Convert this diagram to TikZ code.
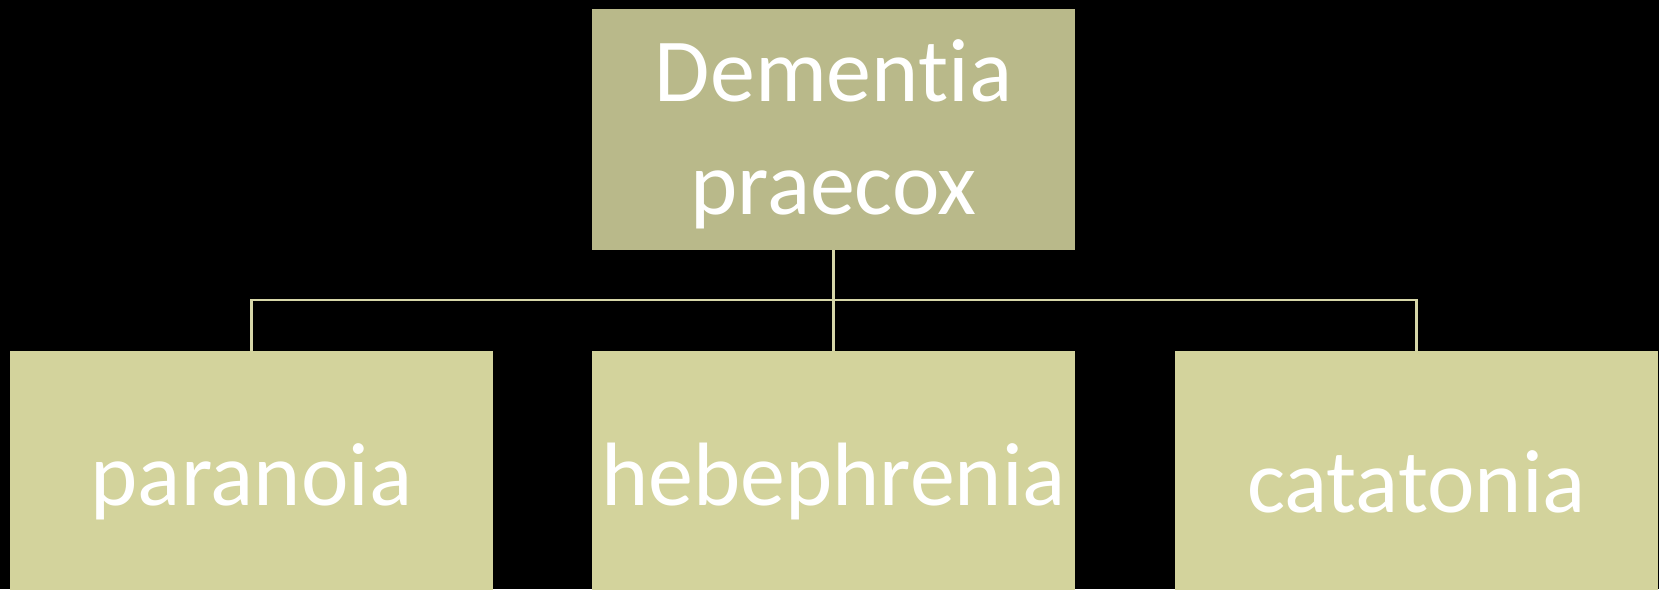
\documentclass[tikz,border=0pt]{standalone}
\usepackage{fontspec}
\setmainfont{Carlito}[Ligatures={NoCommon,NoContextual,NoRequired}]
\definecolor{topfill}{HTML}{B9B98A}
\definecolor{subfill}{HTML}{D3D39C}
\definecolor{linkcol}{HTML}{D6D6A8}
\tikzset{
  topbox/.style={rectangle, fill=topfill, minimum width=483pt, minimum height=241pt, inner sep=0pt},
  boxtext/.style={inner sep=0pt, text=white, align=center, font=\fontsize{90}{113}\selectfont},
  subbox/.style={rectangle, fill=subfill, minimum width=483pt, minimum height=262pt, inner sep=0pt, text=white, align=center, font=\fontsize{90}{113}\selectfont},
  link/.style={draw=linkcol, line width=2.2pt}
}
\begin{document}
\begin{tikzpicture}[x=1pt,y=1pt]
\fill[black] (0,0) rectangle (1659,589);
\useasboundingbox (0,0) rectangle (1659,589);
\clip (0,0) rectangle (1659,589);
\node[topbox] (top) at (833.5,459.5) {};
\node[boxtext] (toptxt) at ([yshift=-5pt]top.center) {Dementia\\praecox};
\node[subbox] (par) at (251.5,107) {paranoia};
\node[subbox] (heb) at (833.5,107) {hebephrenia};
\node[subbox] (cat) at (1416.5,107) {catatonia};
\coordinate (j) at (833.5,289);
\draw[link] (top.south) -- (j);
\draw[link] (par.north) |- (j) -| (cat.north);
\draw[link] (j) -- (heb.north);
\end{tikzpicture}
\end{document}
